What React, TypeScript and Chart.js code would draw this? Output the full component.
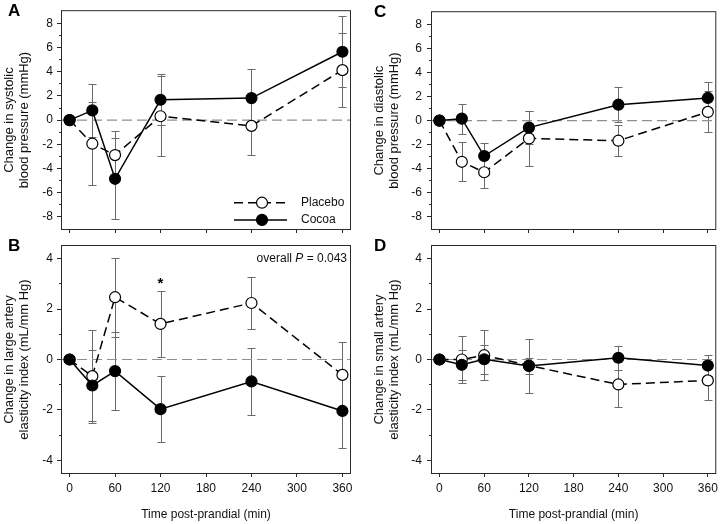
import React, { useEffect, useRef } from 'react';
import { Chart, registerables } from 'chart.js';

Chart.register(...registerables);

const FONT = "'Liberation Sans', Arial, Helvetica, sans-serif";
const AXIS = '#2a2a2a';
const TEXT = '#111111';
const ERR = '#6a6a6a';

// ---------------- data ----------------
const times = [0, 30, 60, 120, 240, 360];
const xTickValues = [0, 60, 120, 180, 240, 300, 360];
const xRange = [-10, 370];
const seriesNames = ['Placebo', 'Cocoa'];
const xTitle = 'Time post-prandial (min)';

const bpMajorTicks = [-8, -6, -4, -2, 0, 2, 4, 6, 8];
const bpMinorTicks = [-7, -5, -3, -1, 1, 3, 5, 7];
const elasticMajorTicks = [-4, -2, 0, 2, 4];
const elasticMinorTicks = [-3, -1, 1, 3];

// A: systolic blood pressure
const systolicPlacebo = [0, -1.95, -2.89, 0.32, -0.48, 4.13];
const systolicPlaceboErr = [0, 3.45, 2.0, 3.3, 2.38, 3.05];
const systolicCocoa = [0, 0.8, -4.85, 1.68, 1.82, 5.65];
const systolicCocoaErr = [0, 2.17, 3.34, 2.1, 2.38, 2.95];

// B: large artery elasticity index
const largePlacebo = [0, -0.66, 2.47, 1.41, 2.24, -0.61];
const largePlaceboErr = [0, 1.84, 1.56, 1.3, 1.03, 1.31];
const largeCocoa = [0, -1.03, -0.46, -1.97, -0.87, -2.04];
const largeCocoaErr = [0, 1.39, 1.55, 1.32, 1.32, 1.45];

// C: diastolic blood pressure
const diastolicPlacebo = [0, -3.42, -4.29, -1.48, -1.67, 0.72];
const diastolicPlaceboErr = [0, 1.63, 1.3, 2.28, 1.3, 1.7];
const diastolicCocoa = [0, 0.16, -2.94, -0.58, 1.32, 1.88];
const diastolicCocoaErr = [0, 1.25, 1.04, 1.37, 1.46, 1.3];

// D: small artery elasticity index
const smallPlacebo = [0, 0.0, 0.17, -0.24, -0.99, -0.83];
const smallPlaceboErr = [0, 0.95, 1.0, 1.07, 0.89, 0.79];
const smallCocoa = [0, -0.21, 0.01, -0.26, 0.07, -0.24];
const smallCocoaErr = [0, 0.6, 0.57, 0.33, 0.47, 0.4];

const overallNote = ['overall ', 'P', ' = 0.043'];
const starMarks = [{ x: 120, y: 2.85 }];

// ---------------- panels ----------------
type Panel = {
  letter: string;
  letterX: number;
  letterY: number;
  yTitle: string[];
  yMin: number;
  yMax: number;
  major: number[];
  minor: number[];
  placebo: number[];
  placeboErr: number[];
  cocoa: number[];
  cocoaErr: number[];
  showX: boolean;
  pad: { left: number; top: number; right: number; bottom: number };
  yWidth: number;
  xHeight: number;
  yTitlePad: number;
  yTickPad: number;
  legend?: boolean;
  note?: boolean;
  stars?: { x: number; y: number }[];
};

const panels: Panel[] = [
  {
    letter: 'A', letterX: 8, letterY: 15.7,
    yTitle: ['Change in systolic', 'blood pressure (mmHg)'],
    yMin: -9, yMax: 9, major: bpMajorTicks, minor: bpMinorTicks,
    placebo: systolicPlacebo, placeboErr: systolicPlaceboErr,
    cocoa: systolicCocoa, cocoaErr: systolicCocoaErr,
    showX: false,
    pad: { left: 0, top: 3, right: 372, bottom: 284 },
    yWidth: 62, xHeight: 11, yTitlePad: 2, yTickPad: 4, legend: true,
  },
  {
    letter: 'B', letterX: 8, letterY: 251,
    yTitle: ['Change in large artery', 'elasticity index (mL/mm Hg)'],
    yMin: -4.5, yMax: 4.5, major: elasticMajorTicks, minor: elasticMinorTicks,
    placebo: largePlacebo, placeboErr: largePlaceboErr,
    cocoa: largeCocoa, cocoaErr: largeCocoaErr,
    showX: true,
    pad: { left: 0, top: 246, right: 372, bottom: 0 },
    yWidth: 62, xHeight: 51, yTitlePad: 2, yTickPad: 4, note: true, stars: starMarks,
  },
  {
    letter: 'C', letterX: 374, letterY: 16.5,
    yTitle: ['Change in diastolic', 'blood pressure (mmHg)'],
    yMin: -9, yMax: 9, major: bpMajorTicks, minor: bpMinorTicks,
    placebo: diastolicPlacebo, placeboErr: diastolicPlaceboErr,
    cocoa: diastolicCocoa, cocoaErr: diastolicCocoaErr,
    showX: false,
    pad: { left: 361, top: 3, right: 3, bottom: 284 },
    yWidth: 71, xHeight: 11, yTitlePad: 10.5, yTickPad: 5,
  },
  {
    letter: 'D', letterX: 374, letterY: 251,
    yTitle: ['Change in small artery', 'elasticity index (mL/mm Hg)'],
    yMin: -4.5, yMax: 4.5, major: elasticMajorTicks, minor: elasticMinorTicks,
    placebo: smallPlacebo, placeboErr: smallPlaceboErr,
    cocoa: smallCocoa, cocoaErr: smallCocoaErr,
    showX: true,
    pad: { left: 361, top: 246, right: 3, bottom: 0 },
    yWidth: 71, xHeight: 51, yTitlePad: 10.5, yTickPad: 5,
  },
];

// ---------------- plugin: error bars, frame, labels ----------------
const decorPlugin = {
  id: 'decor',
  beforeDatasetsDraw(chart: any) {
    const ys = chart.scales.y;
    const ctx = chart.ctx;
    const cap = 4;
    chart.data.datasets.forEach((ds: any, i: number) => {
      if (!ds.errorBars) return;
      const meta = chart.getDatasetMeta(i);
      ctx.save();
      ctx.strokeStyle = ERR;
      ctx.lineWidth = 1;
      meta.data.forEach((pt: any, j: number) => {
        const e = ds.errorBars[j];
        if (!e) return;
        const v = ds.data[j].y;
        const x = Math.round(pt.x) + 0.5;
        const y1 = Math.round(ys.getPixelForValue(v + e)) + 0.5;
        const y2 = Math.round(ys.getPixelForValue(v - e)) + 0.5;
        ctx.beginPath();
        ctx.moveTo(x, y1);
        ctx.lineTo(x, y2);
        ctx.moveTo(x - cap, y1);
        ctx.lineTo(x + cap, y1);
        ctx.moveTo(x - cap, y2);
        ctx.lineTo(x + cap, y2);
        ctx.stroke();
      });
      ctx.restore();
    });
  },
  afterDraw(chart: any, _args: any, opts: any) {
    const ctx = chart.ctx;
    const a = chart.chartArea;
    ctx.save();
    // frame
    ctx.strokeStyle = AXIS;
    ctx.lineWidth = 1;
    ctx.setLineDash([]);
    ctx.strokeRect(a.left - 0.5, a.top - 0.5, a.right - a.left + 1, a.bottom - a.top + 1);
    // panel letter
    ctx.fillStyle = '#000';
    ctx.font = `bold 17px ${FONT}`;
    ctx.textAlign = 'left';
    ctx.textBaseline = 'alphabetic';
    ctx.fillText(opts.letter, opts.letterX, opts.letterY);

    // legend
    if (opts.legend) {
      const dsets = chart.data.datasets;
      const rows = [
        { ds: dsets[0], y: a.top + 191.5, x1: a.right - 96 },
        { ds: dsets[1], y: a.top + 208.7, x1: a.right - 63 },
      ];
      rows.forEach((r) => {
        const x0 = a.right - 116;
        const xEnd = a.right - 63;
        const cx = a.right - 88;
        ctx.strokeStyle = r.ds.borderColor;
        ctx.lineWidth = r.ds.borderWidth;
        ctx.setLineDash(r.ds.borderDash || []);
        ctx.beginPath();
        ctx.moveTo(x0, r.y);
        ctx.lineTo(xEnd, r.y);
        ctx.stroke();
        ctx.setLineDash([]);
        ctx.beginPath();
        ctx.arc(cx, r.y, r.ds.pointRadius, 0, Math.PI * 2);
        ctx.fillStyle = r.ds.pointBackgroundColor;
        ctx.fill();
        ctx.lineWidth = r.ds.pointBorderWidth;
        ctx.strokeStyle = r.ds.pointBorderColor;
        ctx.stroke();
        ctx.fillStyle = TEXT;
        ctx.font = `12px ${FONT}`;
        ctx.textBaseline = 'middle';
        ctx.textAlign = 'left';
        ctx.fillText(r.ds.label, a.right - 49, r.y);
      });
    }

    // overall P note
    if (opts.note) {
      const parts = overallNote;
      const fonts = [`12px ${FONT}`, `italic 12px ${FONT}`, `12px ${FONT}`];
      const widths = parts.map((t, i) => {
        ctx.font = fonts[i];
        return ctx.measureText(t).width;
      });
      let x = a.right - 3 - widths.reduce((s, w) => s + w, 0);
      ctx.fillStyle = TEXT;
      ctx.textBaseline = 'middle';
      ctx.textAlign = 'left';
      parts.forEach((t, i) => {
        ctx.font = fonts[i];
        ctx.fillText(t, x, a.top + 13);
        x += widths[i];
      });
    }

    // significance stars
    if (opts.stars) {
      ctx.fillStyle = '#000';
      ctx.font = `bold 15px ${FONT}`;
      ctx.textAlign = 'center';
      ctx.textBaseline = 'alphabetic';
      opts.stars.forEach((s: any) => {
        ctx.fillText('*', chart.scales.x.getPixelForValue(s.x), chart.scales.y.getPixelForValue(s.y));
      });
    }
    ctx.restore();
  },
};

function buildConfig(p: Panel): any {
  const toPts = (vals: number[]) => times.map((t, i) => ({ x: t, y: vals[i] }));
  return {
    type: 'line',
    data: {
      datasets: [
        {
          label: seriesNames[0],
          data: toPts(p.placebo),
          errorBars: p.placeboErr,
          borderColor: '#000',
          borderWidth: 1.5,
          borderDash: [9, 5],
          pointRadius: 5.5,
          pointBackgroundColor: '#fff',
          pointBorderColor: '#000',
          pointBorderWidth: 1.2,
          fill: false,
          tension: 0,
          order: 2,
        },
        {
          label: seriesNames[1],
          data: toPts(p.cocoa),
          errorBars: p.cocoaErr,
          borderColor: '#000',
          borderWidth: 1.5,
          pointRadius: 5.5,
          pointBackgroundColor: '#000',
          pointBorderColor: '#000',
          pointBorderWidth: 1.2,
          fill: false,
          tension: 0,
          order: 1,
        },
        {
          label: 'zero',
          data: [
            { x: xRange[0], y: 0 },
            { x: xRange[1], y: 0 },
          ],
          borderColor: '#8f8f8f',
          borderWidth: 1.2,
          borderDash: [10, 5],
          pointRadius: 0,
          fill: false,
          order: 3,
        },
      ],
    },
    options: {
      responsive: false,
      animation: false,
      events: [],
      devicePixelRatio: 1,
      layout: { padding: p.pad },
      plugins: {
        legend: { display: false },
        tooltip: { enabled: false },
        title: { display: false },
        decor: {
          letter: p.letter,
          letterX: p.letterX,
          letterY: p.letterY,
          legend: !!p.legend,
          note: !!p.note,
          stars: p.stars || null,
        },
      },
      scales: {
        x: {
          type: 'linear',
          min: xRange[0],
          max: xRange[1],
          afterBuildTicks: (s: any) => {
            s.ticks = xTickValues.map((v) => ({ value: v }));
          },
          afterFit: (s: any) => {
            s.height = p.xHeight;
          },
          grid: { display: true, drawOnChartArea: false, drawTicks: true, tickLength: 4, color: AXIS, lineWidth: 1 },
          border: { display: false },
          ticks: {
            display: p.showX,
            padding: 4,
            autoSkip: false,
            maxRotation: 0,
            color: TEXT,
            font: { size: 12, family: FONT },
            callback: (v: any) => String(v),
          },
          title: {
            display: p.showX,
            text: xTitle,
            color: TEXT,
            font: { size: 12, family: FONT, lineHeight: 1.2 },
            padding: { top: 0, bottom: 2.5 },
          },
        },
        y: {
          type: 'linear',
          position: 'left',
          weight: 1,
          min: p.yMin,
          max: p.yMax,
          afterBuildTicks: (s: any) => {
            s.ticks = p.major.map((v) => ({ value: v }));
          },
          afterFit: (s: any) => {
            s.width = p.yWidth;
          },
          grid: { display: true, drawOnChartArea: false, drawTicks: true, tickLength: 5, color: AXIS, lineWidth: 1 },
          border: { display: false },
          ticks: {
            padding: p.yTickPad,
            autoSkip: false,
            color: TEXT,
            font: { size: 12, family: FONT },
            callback: (v: any) => String(v),
          },
          title: {
            display: true,
            text: p.yTitle,
            color: TEXT,
            font: { size: 13, family: FONT, lineHeight: 1.15 },
            padding: { top: p.yTitlePad, bottom: 0 },
          },
        },
        yMinor: {
          type: 'linear',
          position: 'left',
          weight: 0,
          min: p.yMin,
          max: p.yMax,
          afterBuildTicks: (s: any) => {
            s.ticks = p.minor.map((v) => ({ value: v }));
          },
          afterFit: (s: any) => {
            s.width = 0;
          },
          grid: { display: true, drawOnChartArea: false, drawTicks: true, tickLength: 3, color: AXIS, lineWidth: 1 },
          border: { display: false },
          ticks: { display: false },
          title: { display: false },
        },
      },
    },
    plugins: [decorPlugin],
  };
}

function PanelChart({ panel }: { panel: Panel }) {
  const ref = useRef<HTMLCanvasElement | null>(null);
  useEffect(() => {
    if (!ref.current) return;
    const chart = new Chart(ref.current, buildConfig(panel));
    return () => chart.destroy();
  }, [panel]);
  return (
    <canvas
      ref={ref}
      width={722}
      height={524}
      style={{ position: 'absolute', left: 0, top: 0, width: 722, height: 524 }}
    />
  );
}

export default function App() {
  useEffect(() => {
    document.body.style.margin = '0';
  }, []);
  return (
    <div style={{ position: 'absolute', left: 0, top: 0, width: 722, height: 524, background: '#fff' }}>
      {panels.map((p) => (
        <PanelChart key={p.letter} panel={p} />
      ))}
    </div>
  );
}
